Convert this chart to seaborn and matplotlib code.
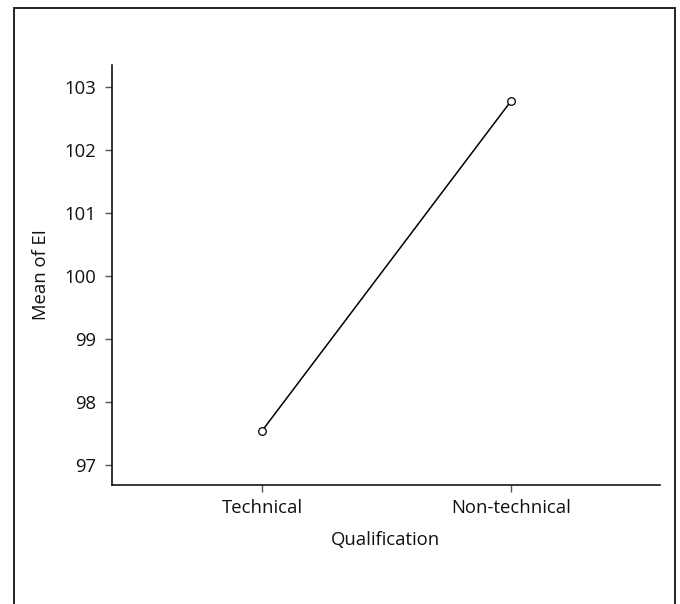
import matplotlib
matplotlib.use("Agg")
import matplotlib.pyplot as plt
import seaborn as sns
import pandas as pd
from matplotlib.patches import Rectangle

qualification = ["Technical", "Non-technical"]
mean_ei = [97.55, 102.78]
y_ticks = [97, 98, 99, 100, 101, 102, 103]

sns.set_style("ticks")
plt.rcParams["font.family"] = ["Open Sans", "DejaVu Sans"]

df = pd.DataFrame({"Qualification": qualification, "Mean of EI": mean_ei})

fig = plt.figure(figsize=(6.8, 6.04), dpi=100)
ax = fig.add_axes([111.7 / 680, 1 - 485 / 604, (660 - 111.7) / 680, (485 - 65) / 604])

sns.lineplot(data=df, x="Qualification", y="Mean of EI", ax=ax, color="black",
             linewidth=1.1, marker="o", markersize=5.5, markerfacecolor="white",
             markeredgecolor="black", markeredgewidth=0.9, sort=False)

ax.set_xlim(-0.604, 1.598)
ax.set_ylim(96.69, 103.35)
ax.set_yticks(y_ticks)
ax.set_yticklabels([str(t) for t in y_ticks])
ax.tick_params(axis="both", labelsize=13.3, length=5.3, width=1, color="#555555",
               labelcolor="#111111")
ax.tick_params(axis="y", pad=6)
ax.tick_params(axis="x", pad=5)
for s in ["top", "right"]:
    ax.spines[s].set_visible(False)
for s in ["left", "bottom"]:
    ax.spines[s].set_color("black")
    ax.spines[s].set_linewidth(1.1)
ax.set_xlabel("Qualification", fontsize=13.3, color="#111111", labelpad=10)
ax.set_ylabel("Mean of EI", fontsize=13.3, color="#111111", labelpad=10)

border = Rectangle((14 / 680, -0.02), (675 - 14) / 680, 1 - 8 / 604 + 0.02,
                   transform=fig.transFigure, fill=False, edgecolor="#222222",
                   linewidth=1.4, clip_on=False)
fig.patches.append(border)

fig.savefig("out.png", dpi=100, facecolor="white")
